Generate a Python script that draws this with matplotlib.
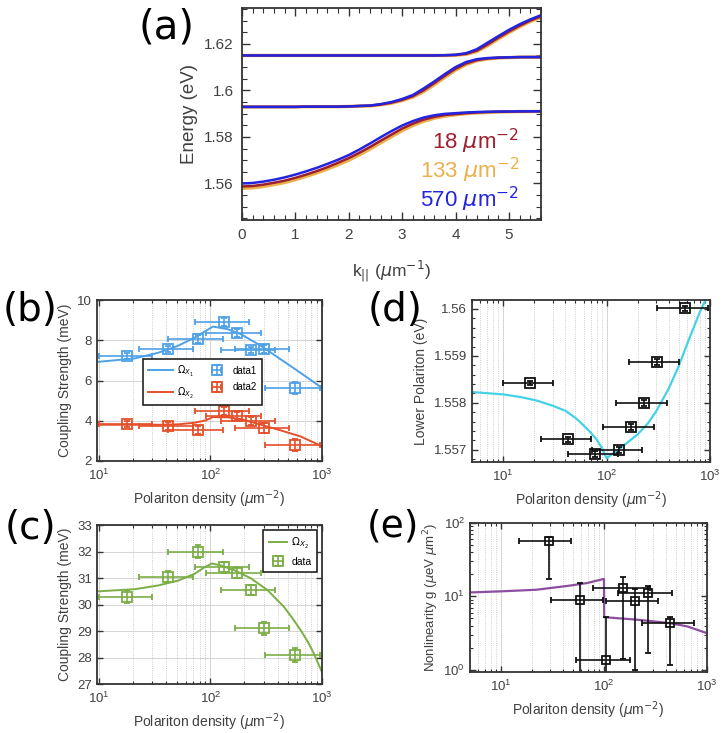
import numpy as np
import matplotlib
matplotlib.use("Agg")
from matplotlib import pyplot as plt
from matplotlib.ticker import MultipleLocator, LogLocator, NullFormatter

plt.rcParams['font.family'] = ['Liberation Sans', 'DejaVu Sans']
plt.rcParams['mathtext.fontset'] = 'dejavusans'

# (a) polariton branches (k step 0.2)
k = [0, 0.2, 0.4, 0.6, 0.8, 1.0, 1.2, 1.4, 1.6, 1.8, 2.0, 2.2, 2.4, 2.6, 2.8,
     3.0, 3.2, 3.4, 3.6, 3.8, 4.0, 4.2, 4.4, 4.6, 4.8, 5.0, 5.2, 5.4, 5.6]
lp_18 = [1.5587, 1.5589, 1.5595, 1.5603, 1.5612, 1.5624, 1.5638, 1.5653, 1.5670, 1.5689,
         1.5709, 1.5732, 1.5757, 1.5784, 1.5810, 1.5836, 1.5857, 1.5874, 1.5886, 1.5894,
         1.5898, 1.5902, 1.5905, 1.5907, 1.5908, 1.5909, 1.5909, 1.5910, 1.5910]
lp_133 = [1.5579, 1.5581, 1.5587, 1.5595, 1.5604, 1.5616, 1.5630, 1.5645, 1.5662, 1.5680,
          1.5700, 1.5723, 1.5748, 1.5775, 1.5801, 1.5827, 1.5849, 1.5867, 1.5880, 1.5889,
          1.5895, 1.5900, 1.5903, 1.5905, 1.5907, 1.5908, 1.5909, 1.5909, 1.5910]
lp_570 = [1.5600, 1.5602, 1.5608, 1.5616, 1.5626, 1.5638, 1.5652, 1.5667, 1.5684, 1.5702,
          1.5722, 1.5746, 1.5772, 1.5799, 1.5825, 1.5849, 1.5868, 1.5883, 1.5893, 1.5899,
          1.5902, 1.5905, 1.5907, 1.5908, 1.5909, 1.5909, 1.5910, 1.5910, 1.5910]
mp_18 = [1.5929] * 6 + [1.5930] * 4 + [1.5931, 1.5933, 1.5934, 1.5939, 1.5947, 1.5959, 1.5975,
                                       1.6000, 1.6031, 1.6063, 1.6093, 1.6116, 1.6130, 1.6137,
                                       1.6140, 1.6142, 1.6143, 1.6143, 1.6143]
mp_133 = [1.5929] * 6 + [1.5930] * 4 + [1.5931, 1.5932, 1.5933, 1.5938, 1.5945, 1.5956, 1.5971,
                                        1.5994, 1.6024, 1.6056, 1.6087, 1.6111, 1.6127, 1.6135,
                                        1.6139, 1.6141, 1.6142, 1.6143, 1.6143]
mp_570 = [1.5929] * 6 + [1.5930] * 4 + [1.5931, 1.5933, 1.5935, 1.5941, 1.5950, 1.5963, 1.5980,
                                        1.6008, 1.6038, 1.6070, 1.6100, 1.6122, 1.6134, 1.6139,
                                        1.6141, 1.6142, 1.6143, 1.6143, 1.6143]
up_18 = [1.6150] * 19 + [1.6151, 1.6152, 1.6157, 1.6171, 1.6197, 1.6226, 1.6253, 1.6278, 1.6300, 1.6318]
up_133 = [1.6150] * 19 + [1.6150, 1.6151, 1.6155, 1.6167, 1.6192, 1.6221, 1.6248, 1.6273, 1.6296, 1.6314]
up_570 = [1.6150] * 19 + [1.6151, 1.6153, 1.6160, 1.6177, 1.6205, 1.6233, 1.6260, 1.6284, 1.6305, 1.6323]

# measured densities and their ranges (b)-(d)
dens = [18, 42, 78, 133, 173, 230, 305, 570]
dens_lo = [10, 23, 42, 72, 92, 124, 165, 310]
dens_hi = [30, 70, 130, 220, 285, 380, 505, 950]

# (b)
omega1 = [7.22, 7.55, 8.05, 8.9, 8.35, 7.5, 7.55, 5.63]
omega1_err = [0.15, 0.15, 0.2, 0.2, 0.2, 0.15, 0.2, 0.3]
omega2 = [3.83, 3.75, 3.52, 4.47, 4.25, 4.0, 3.63, 2.8]
omega2_err = [0.15, 0.2, 0.2, 0.2, 0.2, 0.2, 0.25, 0.3]
fit_n = [10, 21, 34, 51, 72, 91, 105, 143, 188, 284, 427, 642, 1000]
fit_omega1 = [6.93, 7.1, 7.38, 7.72, 8.13, 8.47, 8.68, 8.55, 8.3, 7.72, 7.05, 6.38, 5.63]
fit_omega2 = [3.8, 3.8, 3.8, 3.82, 3.9, 4.02, 4.18, 4.17, 4.08, 3.8, 3.52, 3.22, 2.73]

# (c)
omega_c = [30.3, 31.05, 32.0, 31.4, 31.2, 30.55, 29.1, 28.1]
omega_c_err = [0.25, 0.2, 0.25, 0.2, 0.2, 0.2, 0.25, 0.25]
fit_c_n = [10, 21, 34, 51, 72, 88, 103, 125, 163, 230, 324, 454, 540, 642, 750, 843, 920, 1000]
fit_c = [30.5, 30.58, 30.72, 30.9, 31.16, 31.4, 31.55, 31.47, 31.3, 30.99, 30.55, 29.92,
         29.5, 29.04, 28.58, 28.16, 27.8, 27.45]

# (d)
lp_meas = [1.55842, 1.55722, 1.55691, 1.55699, 1.55748, 1.55800, 1.55887, 1.56001]
lp_err = [0.00005, 0.00006, 0.00006, 0.00006, 0.00006, 0.00006, 0.00006, 0.00005]
fit_d_n = [5, 10, 15, 21, 30, 40, 50, 60, 70, 80, 90, 100, 110, 130, 160, 200, 250, 300,
           400, 500, 600, 700, 800, 900, 970]
fit_d = [1.55823, 1.55818, 1.55812, 1.55805, 1.55794, 1.55783, 1.55768, 1.55752, 1.55737,
         1.55722, 1.55704, 1.55682, 1.55689, 1.55700, 1.55716, 1.55733, 1.55756, 1.55781,
         1.55831, 1.55879, 1.55925, 1.55962, 1.55994, 1.56018, 1.56035]

# (e)
g_n = [29, 58, 105, 152, 201, 267, 441]
g_n_lo = [15.1, 30.8, 54, 79, 105, 138, 235]
g_n_hi = [48.3, 98.5, 177, 282, 331, 457, 741]
g_val = [57, 8.9, 1.37, 13.1, 8.6, 11.1, 4.3]
g_lo = [17.5, 0.8, 0.8, 1.4, 1.0, 1.7, 1.15]
g_hi = [65, 15.2, 5.3, 18.4, 12.5, 14, 5.3]
fit_e_n = [5, 10, 22, 46.6, 68.8, 100, 100.5, 145, 211, 306, 441, 640, 1000]
fit_e = [11.3, 11.7, 12.3, 14.0, 15.2, 17.3, 5.2, 5.0, 4.8, 4.55, 4.3, 3.9, 3.15]

TXT = '#404040'
SP = '#333333'


def style(ax, fs=9.5):
    for s in ax.spines.values():
        s.set_color(SP)
        s.set_linewidth(1.3)
    ax.tick_params(which='both', direction='in', top=True, right=True, colors=SP,
                   labelcolor=TXT, labelsize=fs)
    ax.tick_params(which='major', length=4, width=1)
    ax.tick_params(which='minor', length=2.5, width=0.8)


def log_x(ax):
    ax.set_xscale('log')
    ax.xaxis.set_major_locator(LogLocator(base=10))
    ax.xaxis.set_minor_locator(LogLocator(base=10, subs=np.arange(2, 10)))
    ax.xaxis.set_minor_formatter(NullFormatter())
    ax.tick_params(axis='x', which='major', pad=5)
    ax.grid(True, which='major', axis='x', color='#cfcfcf', lw=0.6)
    ax.grid(True, which='minor', axis='x', color='#bdbdbd', lw=0.6, ls=':')


def err(ax, x, xlo, xhi, y, ylo, yhi, color, label=None, ms=6.5):
    x = np.array(x); y = np.array(y)
    return ax.errorbar(x, y, xerr=[x - np.array(xlo), np.array(xhi) - x],
                       yerr=[y - np.array(ylo), np.array(yhi) - y],
                       fmt='s', mfc='none', mec=color, color=color, ms=ms, mew=1.3,
                       elinewidth=1.2, capsize=2, capthick=1.0, label=label)


fig = plt.figure(figsize=(7.28, 7.33), dpi=100)

# ---------------- (a)
ax = fig.add_axes([0.3324, 0.6999, 0.4107, 0.2892])
style(ax, 11)
c18, c133, c570 = '#9E1F2E', '#EBB14A', '#2424E0'
for br in [(lp_133, lp_18, lp_570), (mp_133, mp_18, mp_570), (up_133, up_18, up_570)]:
    ax.plot(k, br[0], color=c133, lw=2.4)
    ax.plot(k, br[1], color=c18, lw=1.8)
    ax.plot(k, br[2], color=c570, lw=1.8)
ax.set_xlim(0, 5.6)
ax.set_ylim(1.5443, 1.6354)
ax.set_yticks([1.56, 1.58, 1.6, 1.62])
ax.set_yticklabels(['1.56', '1.58', '1.6', '1.62'])
ax.xaxis.set_major_locator(MultipleLocator(1))
ax.xaxis.set_minor_locator(MultipleLocator(0.2))
ax.yaxis.set_minor_locator(MultipleLocator(0.005))
ax.tick_params(which='major', length=6, pad=6)
ax.tick_params(which='minor', length=3.5)
ax.set_ylabel('Energy (eV)', fontsize=13.5, color=TXT)
ax.set_xlabel(r'k$_{||}$ ($\mu$m$^{-1}$)', fontsize=12.5, color=TXT, labelpad=12)
ax.text(5.2, 1.5779, r'18 $\mu$m$^{-2}$', color=c18, fontsize=16, ha='right', va='center')
ax.text(5.2, 1.5657, r'133 $\mu$m$^{-2}$', color=c133, fontsize=16, ha='right', va='center')
ax.text(5.2, 1.5533, r'570 $\mu$m$^{-2}$', color=c570, fontsize=16, ha='right', va='center')
fig.text(167 / 728, 1 - 27 / 733, '(a)', fontsize=29, family='DejaVu Sans', ha='center', va='center')

# ---------------- (b)
ax = fig.add_axes([0.1332, 0.3711, 0.3091, 0.2196])
style(ax)
log_x(ax)
ax.grid(True, which='major', axis='y', color='#cfcfcf', lw=0.6)
cb1, cb2 = '#4EA1E6', '#E5502A'
l1, = ax.plot(fit_n, fit_omega1, color=cb1, lw=1.4)
l2, = ax.plot(fit_n, fit_omega2, color=cb2, lw=1.4)
o1 = np.array(omega1); e1 = np.array(omega1_err)
o2 = np.array(omega2); e2 = np.array(omega2_err)
d1 = err(ax, dens, dens_lo, dens_hi, o1, o1 - e1, o1 + e1, cb1)
d2 = err(ax, dens, dens_lo, dens_hi, o2, o2 - e2, o2 + e2, cb2)
ax.set_xlim(9.6, 1000)
ax.set_ylim(2, 10)
ax.set_yticks([2, 4, 6, 8, 10])
ax.set_ylabel('Coupling Strength (meV)', fontsize=10, color=TXT)
ax.set_xlabel(r'Polariton density ($\mu$m$^{-2}$)', fontsize=10, color=TXT)
leg = ax.legend([l1, l2, d1, d2], [r'$\Omega_{X_1}$', r'$\Omega_{X_2}$', 'data1', 'data2'],
                ncol=2, fontsize=7, loc='center', bbox_to_anchor=(0.47, 0.49),
                fancybox=False, edgecolor='#222222', framealpha=1,
                handlelength=2.6, borderpad=0.5, labelspacing=0.7, columnspacing=1.0,
                handletextpad=0.4)
leg.get_frame().set_linewidth(1.2)
fig.text(30 / 728, 1 - 310 / 733, '(b)', fontsize=28, family='DejaVu Sans', ha='center', va='center')

# ---------------- (c)
ax = fig.add_axes([0.1332, 0.0668, 0.3091, 0.2169])
style(ax)
log_x(ax)
ax.grid(True, which='major', axis='y', color='#cfcfcf', lw=0.6)
cg = '#7BAE45'
lc, = ax.plot(fit_c_n, fit_c, color=cg, lw=1.4)
oc = np.array(omega_c); ec = np.array(omega_c_err)
dc = err(ax, dens, dens_lo, dens_hi, oc, oc - ec, oc + ec, cg)
ax.set_xlim(9.6, 1000)
ax.set_ylim(27, 33)
ax.set_yticks([27, 28, 29, 30, 31, 32, 33])
ax.set_ylabel('Coupling Strength (meV)', fontsize=10, color=TXT)
ax.set_xlabel(r'Polariton density ($\mu$m$^{-2}$)', fontsize=10, color=TXT)
leg = ax.legend([lc, dc], [r'$\Omega_{X_2}$', 'data'], fontsize=7.5, loc='upper right',
                fancybox=False, edgecolor='#222222', framealpha=1, handlelength=1.8,
                borderpad=0.5, labelspacing=0.6, handletextpad=0.4)
leg.get_frame().set_linewidth(1.2)
fig.text(30 / 728, 1 - 528 / 733, '(c)', fontsize=28, family='DejaVu Sans', ha='center', va='center')

# ---------------- (d)
ax = fig.add_axes([0.6484, 0.3697, 0.3269, 0.2210])
style(ax)
log_x(ax)
ax.plot(fit_d_n, fit_d, color='#45D2E6', lw=1.6)
lm = np.array(lp_meas); le = np.array(lp_err)
err(ax, dens, dens_lo, dens_hi, lm, lm - le, lm + le, '#111111', ms=7)
ax.set_xlim(5, 1000)
ax.set_ylim(1.55674, 1.56019)
ax.set_yticks([1.557, 1.558, 1.559, 1.56])
ax.set_yticklabels(['1.557', '1.558', '1.559', '1.56'])
ax.yaxis.set_minor_locator(MultipleLocator(0.0002))
ax.set_ylabel('Lower Polariton (eV)', fontsize=10, color=TXT)
ax.set_xlabel(r'Polariton density ($\mu$m$^{-2}$)', fontsize=10, color=TXT)
fig.text(395 / 728, 1 - 310 / 733, '(d)', fontsize=28, family='DejaVu Sans', ha='center', va='center')

# ---------------- (e)
ax = fig.add_axes([0.6456, 0.0832, 0.3255, 0.2033])
style(ax)
log_x(ax)
ax.set_yscale('log')
ax.yaxis.set_minor_locator(LogLocator(base=10, subs=np.arange(2, 10)))
ax.yaxis.set_minor_formatter(NullFormatter())
ax.plot(fit_e_n, fit_e, color='#8C4FA0', lw=1.6)
err(ax, g_n, g_n_lo, g_n_hi, g_val, g_lo, g_hi, '#111111', ms=6)
ax.set_xlim(5, 1000)
ax.set_ylim(0.93, 100)
ax.set_ylabel(r'Nonlinearity g ($\mu$eV $\mu$m$^2$)', fontsize=9.5, color=TXT, labelpad=2)
ax.set_xlabel(r'Polariton density ($\mu$m$^{-2}$)', fontsize=10, color=TXT)
fig.text(393 / 728, 1 - 526 / 733, '(e)', fontsize=27, family='DejaVu Sans', ha='center', va='center')

fig.savefig('out.png', dpi=100)
